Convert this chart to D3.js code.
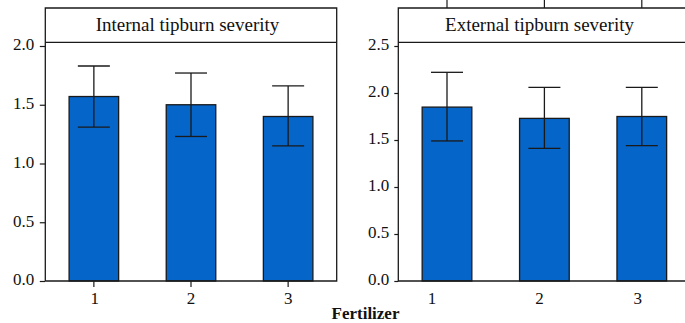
<!DOCTYPE html>
<html lang="en">
<head>
<meta charset="UTF-8">
<title>Tipburn severity by fertilizer</title>
<style>
    body { margin: 0; padding: 0; background: #fff; overflow: hidden; }
    svg { display: block; }
    text { font-family: "Liberation Serif", "Times New Roman", serif !important; }
    .frame { fill: none; stroke: #1a1a1a; stroke-width: 1.3px; }
    .bar { fill: #0565c9; stroke: #1a1a1a; stroke-width: 1.3px; }
    .err { stroke: #1a1a1a; stroke-width: 1.3px; }
    .tick-label { font-size: 17px; fill: #111; }
    .strip-title { font-size: 19px; fill: #111; }
</style>
<script src="https://d3js.org/d3.v7.min.js"></script>
</head>
<body>
<svg id="chart" width="685" height="323"></svg>
<script>
    // data
    const categories = ['1', '2', '3'];

    const internalMean = [1.57, 1.50, 1.40];
    const internalLow = [1.31, 1.23, 1.15];
    const internalHigh = [1.83, 1.77, 1.66];
    const internalTicks = [0, 0.5, 1.0, 1.5, 2.0];

    const externalMean = [1.85, 1.73, 1.75];
    const externalLow = [1.49, 1.41, 1.44];
    const externalHigh = [2.22, 2.06, 2.06];
    const externalTicks = [0, 0.5, 1.0, 1.5, 2.0, 2.5];

    const svg = d3.select('#chart');

    const frameTop = 8, stripBottom = 42.3, baseY = 281, capW = 32;

    function drawPanel(p) {
        const g = svg.append('g');

        const x = d3.scaleBand()
            .domain(categories)
            .range([p.left, p.right])
            .paddingInner(0.49)
            .paddingOuter(0.245);

        const y = d3.scaleLinear()
            .domain([0, p.yMax])
            .range([baseY, 46]);

        // bars
        g.selectAll('.bar')
            .data(categories)
            .enter().append('rect')
            .attr('class', 'bar')
            .attr('x', d => x(d))
            .attr('width', x.bandwidth())
            .attr('y', (d, i) => y(p.mean[i]))
            .attr('height', (d, i) => baseY - y(p.mean[i]));

        // error bars
        const cx = d => x(d) + x.bandwidth() / 2;
        g.selectAll('.err-v')
            .data(categories)
            .enter().append('line')
            .attr('class', 'err')
            .attr('x1', cx).attr('x2', cx)
            .attr('y1', (d, i) => y(p.low[i]))
            .attr('y2', (d, i) => y(p.high[i]));
        ['low', 'high'].forEach(k => {
            g.selectAll('.err-' + k)
                .data(categories)
                .enter().append('line')
                .attr('class', 'err')
                .attr('x1', d => cx(d) - capW / 2)
                .attr('x2', d => cx(d) + capW / 2)
                .attr('y1', (d, i) => y(p[k][i]))
                .attr('y2', (d, i) => y(p[k][i]));
        });

        // frame + strip
        g.append('path')
            .attr('class', 'frame')
            .attr('d', p.closed
                ? `M${p.left},${baseY}V${frameTop}H${p.right}V${baseY}H${p.left}`
                : `M${p.right},${frameTop}H${p.left}V${baseY}H${p.right}`);
        g.append('line').attr('class', 'frame')
            .attr('x1', p.left).attr('x2', p.right)
            .attr('y1', stripBottom).attr('y2', stripBottom);

        g.append('text')
            .attr('class', 'strip-title')
            .attr('x', p.titleX)
            .attr('y', (frameTop + stripBottom) / 2 + 6)
            .attr('text-anchor', 'middle')
            .text(p.title);

        // y axis
        const yAxis = g.append('g')
            .attr('transform', `translate(${p.left},0)`)
            .call(d3.axisLeft(y).tickValues(p.ticks).tickFormat(d3.format('.1f'))
                .tickSize(p.tickLen).tickPadding(p.tickPad))
            .attr('font-family', null).attr('font-size', null);
        yAxis.select('.domain').remove();
        yAxis.selectAll('line').attr('stroke', '#1a1a1a').attr('stroke-width', 1.2);
        yAxis.selectAll('text').attr('class', 'tick-label').attr('dy', '0.22em');

        // x axis
        const xAxis = g.append('g')
            .attr('transform', `translate(0,${baseY})`)
            .call(d3.axisBottom(x).tickSize(p.xTicks ? 6 : 0).tickPadding(p.xTicks ? 5 : 11))
            .attr('font-family', null).attr('font-size', null);
        xAxis.select('.domain').remove();
        xAxis.selectAll('line').attr('stroke', '#1a1a1a').attr('stroke-width', 1.2);
        xAxis.selectAll('text').attr('class', 'tick-label').attr('dx', (d, i) => p.labelShift[i]);

        // ticks poking above the frame
        if (p.topTicks) {
            g.selectAll('.top-tick')
                .data(categories)
                .enter().append('line')
                .attr('stroke', '#1a1a1a').attr('stroke-width', 1.2)
                .attr('x1', cx).attr('x2', cx)
                .attr('y1', 0).attr('y2', frameTop);
        }
    }

    drawPanel({
        left: 45.3, right: 336.7, yMax: 2.0, ticks: internalTicks,
        mean: internalMean, low: internalLow, high: internalHigh,
        title: 'Internal tipburn severity', titleX: 187.5,
        closed: true, tickLen: 5.5, tickPad: 5.5, xTicks: true, labelShift: [1, 0, 0], topTicks: false
    });

    drawPanel({
        left: 398.3, right: 690.5, yMax: 2.5, ticks: externalTicks,
        mean: externalMean, low: externalLow, high: externalHigh,
        title: 'External tipburn severity', titleX: 539.5,
        closed: false, tickLen: 4, tickPad: 5, xTicks: false, labelShift: [-15, -5, -4], topTicks: true
    });

    svg.append('text')
        .attr('x', 365.5)
        .attr('y', 319)
        .attr('text-anchor', 'middle')
        .attr('font-weight', 'bold')
        .attr('font-size', '17px')
        .attr('fill', '#111')
        .text('Fertilizer');
</script>
</body>
</html>
